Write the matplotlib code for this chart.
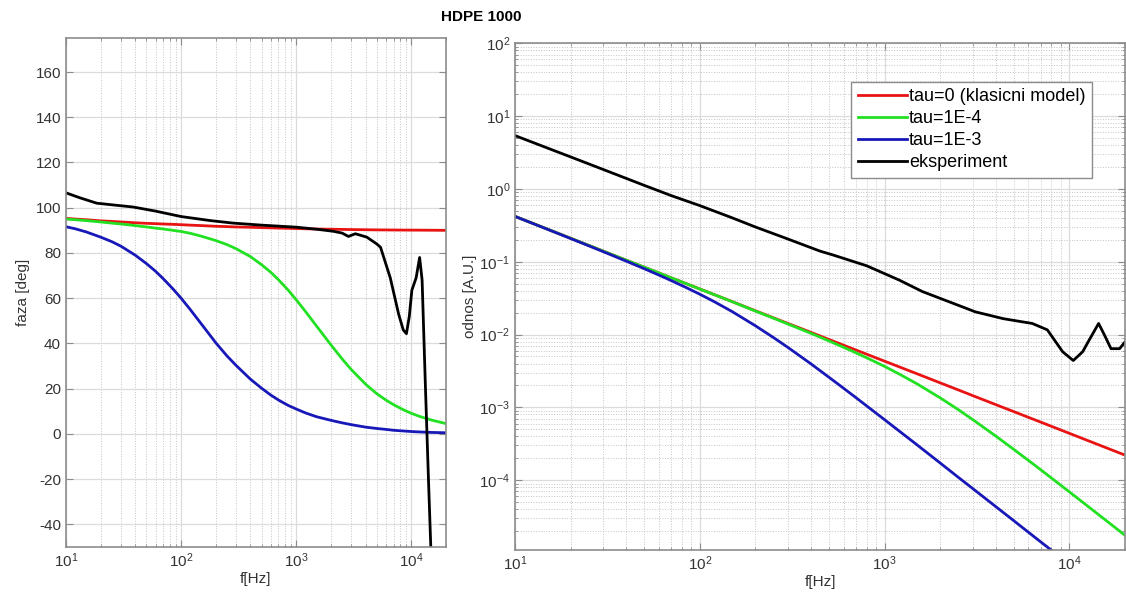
import matplotlib
matplotlib.use("Agg")
import matplotlib.pyplot as plt
from matplotlib.ticker import LogLocator, NullFormatter

plt.rcParams["font.family"] = ["Liberation Sans", "DejaVu Sans"]
plt.rcParams["mathtext.fontset"] = "custom"
plt.rcParams["mathtext.rm"] = "Liberation Sans"
plt.rcParams["mathtext.it"] = "Liberation Sans:italic"
plt.rcParams["axes.unicode_minus"] = False

# model frequencies [Hz]
freq = [10, 12, 15, 20, 25, 30, 40, 50, 60, 70, 85, 100, 120, 150, 200, 250,
        300, 400, 500, 600, 700, 850, 1000, 1200, 1500, 2000, 2500, 3000, 4000,
        5000, 6000, 7000, 8500, 10000, 12000, 15000, 20000]

# phase [deg]
phase_tau0 = [95.3, 95.0, 94.7, 94.2, 93.95, 93.7, 93.35, 93.1, 92.95, 92.8,
              92.65, 92.5, 92.3, 92.1, 91.8, 91.65, 91.5, 91.35, 91.2, 91.1,
              91.0, 90.9, 90.8, 90.7, 90.6, 90.5, 90.42, 90.35, 90.27, 90.2,
              90.18, 90.15, 90.12, 90.1, 90.08, 90.05, 90.0]
phase_tau1e4 = [95.0, 94.7, 94.3, 93.7, 93.2, 92.8, 92.1, 91.5, 91.0, 90.6,
                90.0, 89.5, 88.7, 87.4, 85.5, 83.7, 81.9, 78.4, 74.8, 71.5,
                68.2, 63.6, 59.3, 54.2, 47.7, 39.4, 33.2, 28.5, 22.0, 17.8,
                15.0, 12.95, 10.7, 9.1, 7.6, 6.1, 4.55]
phase_tau1e3 = [91.6, 90.7, 89.3, 87.0, 85.0, 83.0, 79.0, 75.3, 71.9, 68.6,
                64.1, 60.0, 55.0, 48.6, 40.3, 34.5, 30.3, 24.2, 20.2, 17.2,
                15.0, 12.6, 11.0, 9.3, 7.6, 6.0, 4.9, 4.1, 3.0, 2.4, 2.0, 1.6,
                1.3, 1.05, 0.85, 0.65, 0.5]

# measured phase
freq_exp_ph = [10, 13, 18.5, 25, 38.5, 60, 100, 180, 283, 500, 1000, 1500, 2090,
               2500, 2840, 3260, 4100, 5000, 5400, 6560, 7750, 8500, 9060, 9600,
               10100, 11000, 11800, 12400, 13200, 14100, 14800]
phase_exp = [106.6, 104.5, 102.0, 101.3, 100.3, 98.5, 96.1, 94.3, 93.2, 92.3,
             91.4, 90.5, 89.6, 88.8, 87.3, 88.5, 87.0, 84.0, 82.5, 69.0, 53.0,
             46.0, 44.3, 52.0, 63.5, 69.0, 78.0, 68.0, 23.5, -21.0, -52.0]

# ratio [A.U.]
ratio_tau0 = [0.420, 0.350, 0.280, 0.210, 0.168, 0.140, 0.105, 0.0842, 0.0702,
              0.0602, 0.0497, 0.0423, 0.0353, 0.0283, 0.0212, 0.0170, 0.0142,
              0.0107, 0.00856, 0.00714, 0.00613, 0.00506, 0.00431, 0.00360,
              0.00289, 0.00217, 0.00174, 0.00145, 0.00109, 8.75e-4, 7.3e-4,
              6.27e-4, 5.17e-4, 4.40e-4, 3.67e-4, 2.94e-4, 2.21e-4]
ratio_tau1e4 = [0.420, 0.350, 0.280, 0.210, 0.168, 0.140, 0.105, 0.0842, 0.0702,
                0.0602, 0.0496, 0.0422, 0.0352, 0.0282, 0.0210, 0.0168, 0.01395,
                0.01038, 0.00817, 0.00668, 0.00561, 0.00446, 0.00365, 0.00287,
                0.00210, 0.00135, 9.34e-4, 6.79e-4, 4.03e-4, 2.65e-4, 1.87e-4,
                1.39e-4, 9.5e-5, 6.91e-5, 4.82e-5, 3.10e-5, 1.75e-5]
ratio_tau1e3 = [0.419, 0.349, 0.2788, 0.2084, 0.1660, 0.1376, 0.1018, 0.0803,
                0.0657, 0.0551, 0.0438, 0.0358, 0.0282, 0.0206, 0.01319,
                0.00912, 0.00665, 0.00395, 0.00259, 0.00183, 0.00136, 9.30e-4,
                6.77e-4, 4.73e-4, 3.05e-4, 1.72e-4, 1.10e-4, 7.67e-5, 4.33e-5,
                2.78e-5, 1.93e-5, 1.42e-5, 9.67e-6, 7.0e-6, 4.86e-6, 3.12e-6,
                1.76e-6]

freq_exp_mag = [10, 20, 30, 50, 70, 100, 150, 200, 300, 447, 525, 800, 1200,
                1600, 2250, 3100, 4400, 6300, 7600, 9200, 10500, 11800, 12900,
                14400, 15500, 16800, 18700, 20000]
ratio_exp = [5.4, 2.75, 1.85, 1.12, 0.81, 0.59, 0.40, 0.30, 0.205, 0.14, 0.124,
             0.088, 0.056, 0.039, 0.028, 0.0205, 0.0165, 0.0142, 0.0116, 0.0058,
             0.0044, 0.0058, 0.0087, 0.0142, 0.0098, 0.0064, 0.0064, 0.0079]

labels = ["tau=0 (klasicni model)", "tau=1E-4", "tau=1E-3", "eksperiment"]
colors = ["#e81414", "#22e022", "#1818b8", "black"]
x_ticks = [1e1, 1e2, 1e3, 1e4]
ratio_ticks = [1e-4, 1e-3, 1e-2, 1e-1, 1e0, 1e1, 1e2]
TXT = "#333333"
FRAME = "#8c8c8c"


def style(ax):
    for s in ax.spines.values():
        s.set_color(FRAME)
        s.set_linewidth(1.2)
    ax.tick_params(which="both", direction="in", top=True, right=True,
                   colors=FRAME, labelcolor=TXT, labelsize=11)
    ax.tick_params(which="major", length=5)
    ax.tick_params(which="minor", length=2.5)
    ax.grid(True, which="major", color="#dcdcdc", linestyle="-", linewidth=0.9)
    ax.grid(True, which="minor", color="#c4c4c4", linestyle=":", linewidth=0.7)
    ax.set_axisbelow(True)


def log_x(ax):
    ax.set_xscale("log")
    ax.set_xticks(x_ticks)
    ax.xaxis.set_minor_locator(LogLocator(base=10, subs=range(2, 10), numticks=20))
    ax.xaxis.set_minor_formatter(NullFormatter())
    ax.set_xlim(10, 2e4)


fig = plt.figure(figsize=(11.26, 5.98), dpi=100)
ax1 = fig.add_axes([0.0586, 0.0853, 0.3375, 0.851])
ax2 = fig.add_axes([0.4574, 0.0803, 0.5417, 0.8473])

# phase
ax1.plot(freq, phase_tau0, color=colors[0], lw=2)
ax1.plot(freq, phase_tau1e4, color=colors[1], lw=2)
ax1.plot(freq, phase_tau1e3, color=colors[2], lw=2)
ax1.plot(freq_exp_ph, phase_exp, color=colors[3], lw=2)
log_x(ax1)
ax1.set_ylim(-50, 175)
ax1.set_yticks(range(-40, 161, 20))
style(ax1)
ax1.grid(False, which="minor", axis="y")
ax1.set_xlabel("f[Hz]", fontsize=11, color=TXT, labelpad=1)
ax1.set_ylabel("faza [deg]", fontsize=11, color=TXT, labelpad=4)

# ratio
for vals, c, lab in zip([ratio_tau0, ratio_tau1e4, ratio_tau1e3], colors, labels):
    ax2.plot(freq, vals, color=c, lw=2, label=lab)
ax2.plot(freq_exp_mag, ratio_exp, color=colors[3], lw=2, label=labels[3])
log_x(ax2)
ax2.set_yscale("log")
ax2.set_yticks(ratio_ticks)
ax2.yaxis.set_minor_locator(LogLocator(base=10, subs=range(2, 10), numticks=20))
ax2.yaxis.set_minor_formatter(NullFormatter())
ax2.set_ylim(1.1e-5, 100)
style(ax2)
ax2.set_xlabel("f[Hz]", fontsize=11, color=TXT, labelpad=1)
ax2.set_ylabel("odnos [A.U.]", fontsize=11, color=TXT, labelpad=2)

leg = ax2.legend(loc="upper right", bbox_to_anchor=(0.946, 0.924), fontsize=13,
                 frameon=True, fancybox=False, framealpha=1, edgecolor="#8c8c8c",
                 handlelength=2.7, handletextpad=0.15, borderpad=0.35,
                 labelspacing=0.28, borderaxespad=0)
leg.get_frame().set_linewidth(1.0)

fig.text(0.427, 0.972, "HDPE 1000", ha="center", va="center",
         fontsize=11, fontweight="bold")

fig.savefig("out.png", dpi=100)
